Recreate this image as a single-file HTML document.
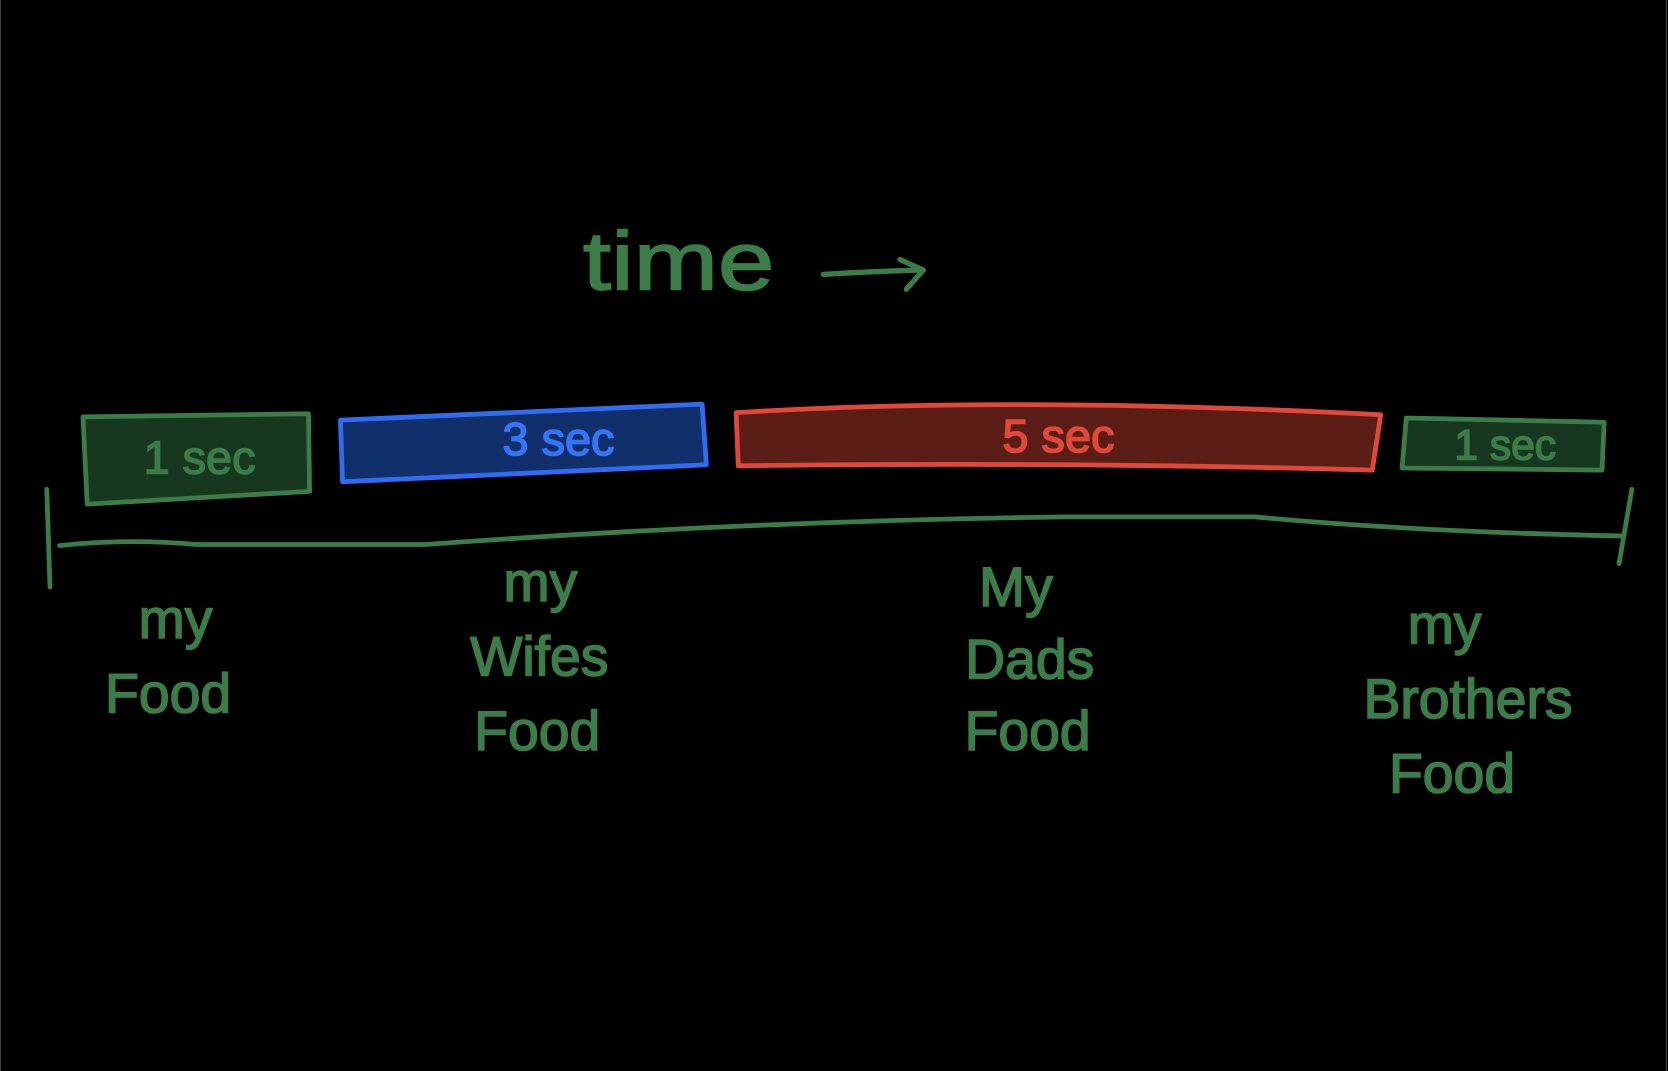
<!DOCTYPE html>
<html><head><meta charset="utf-8"><style>
html,body{margin:0;padding:0;background:#000;width:1668px;height:1071px;overflow:hidden}
svg{display:block}
text{font-family:"Liberation Sans",sans-serif;fill:#3a7d48;stroke:#3a7d48;stroke-width:1.5}
</style></head><body>
<svg width="1668" height="1071" viewBox="0 0 1568 1007" preserveAspectRatio="none">
<rect x="0" y="0" width="1568" height="1007" fill="#000"/>
<line x1="0.5" y1="0" x2="0.5" y2="1007" stroke="#444" stroke-width="1"/>
<line x1="1566.5" y1="0" x2="1566.5" y2="1007" stroke="#444" stroke-width="1"/>
<text x="548" y="272" font-size="78" textLength="180" lengthAdjust="spacingAndGlyphs">time</text>
<path d="M774 258 Q820 255 866 254 M846 244 L868 254 L852 272" stroke="#3a7d48" stroke-width="5" fill="none" stroke-linecap="round" stroke-linejoin="round"/>
<path d="M78 392 L290 389 L291 462 L82 474 Z" fill="#17371f" stroke="#3a7d48" stroke-width="4.5" stroke-linejoin="round"/>
<text x="135" y="445" font-size="44">1 sec</text>
<path d="M320 395 L660 380 L664 437 L322 453 Z" fill="#11306b" stroke="#2f6cf2" stroke-width="4.5" stroke-linejoin="round"/>
<text x="525" y="428" font-size="44" text-anchor="middle" style="fill:#3574f5;stroke:#3574f5">3 sec</text>
<path d="M692 388 Q950 372 1298 390 L1290 442 Q1000 434 694 438 Z" fill="#5a1e17" stroke="#e2483a" stroke-width="4.5" stroke-linejoin="round"/>
<text x="995" y="425" font-size="44" text-anchor="middle" style="fill:#e2483a;stroke:#e2483a">5 sec</text>
<path d="M1322 393 L1508 397 L1506 442 L1318 440 Z" fill="#17371f" stroke="#3a7d48" stroke-width="4.5" stroke-linejoin="round"/>
<text x="1415" y="432" font-size="40" text-anchor="middle">1 sec</text>
<path d="M44 460 L47 552 M56 513 Q120 506 185 512 L400 512 Q700 490 1000 486 L1180 486 Q1330 500 1525 504 M1534 460 L1522 530" stroke="#3a7d48" stroke-width="4.5" fill="none" stroke-linecap="round"/>
<g font-size="52" text-anchor="middle">
<text x="165" y="600">my</text>
<text x="158" y="670">Food</text>
<text x="508" y="565">my</text>
<text x="507" y="635">Wifes</text>
<text x="505" y="705">Food</text>
<text x="955" y="570">My</text>
<text x="968" y="638">Dads</text>
<text x="966" y="705">Food</text>
<text x="1358" y="605">my</text>
<text x="1380" y="675">Brothers</text>
<text x="1365" y="745">Food</text>
</g>
</svg>
</body></html>
